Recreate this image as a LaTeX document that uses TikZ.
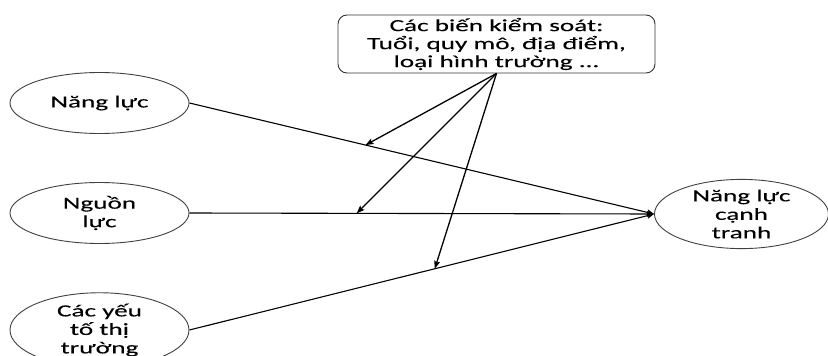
\documentclass[tikz,border=0pt]{standalone}
\usepackage{fontspec}
\setmainfont{Carlito}[FakeStretch=1.6,FakeBold=0.15]
\usetikzlibrary{shapes.geometric,arrows.meta}
\tikzset{
  oval/.style={draw=black!75, line width=0.9pt, ellipse, inner sep=0pt, align=center,
    font=\fontsize{17}{18.5}\selectfont},
  ctrlbox/.style={draw=black!80, line width=0.9pt, rounded corners=9pt, inner sep=0pt, align=center,
    minimum width=317pt, minimum height=58pt, font=\fontsize{17}{18}\selectfont},
  link/.style={draw=black, line width=1.3pt, -{Stealth[length=8pt,width=6pt,inset=1.5pt]}},
  flow/.style={draw=black, line width=1.1pt, -{Stealth[length=7pt,width=6pt,inset=1.5pt]}}
}
\begin{document}
\begin{tikzpicture}[x=1pt,y=-1pt]
\useasboundingbox (0,0) rectangle (828,356);
\node[ctrlbox] (box) at (496.5,44) {Các biến kiểm soát:\\Tuổi, quy mô, địa điểm,\\loại hình trường ...};
\node[oval, minimum width=179pt, minimum height=61pt] (n1) at (99.5,103) {Năng lực};
\node[oval, minimum width=179pt, minimum height=61pt] (n2) at (99.5,213) {Nguồn\\lực};
\node[oval, minimum width=179pt, minimum height=64pt] (n3) at (99.5,330) {Các yếu\\tố thị\\trường};
\node[oval, minimum width=174pt, minimum height=62pt] (t) at (741.5,214) {Năng lực\\cạnh\\tranh};
\draw[flow] (n1.east) -- (t.west) coordinate[pos=0.379] (m1);
\draw[flow] (n2.east) -- (t.west) coordinate[pos=0.36] (m2);
\draw[flow] (n3.east) -- (t.west) coordinate[pos=0.528] (m3);
\draw[link] (box.south) -- (m1);
\draw[link] (box.south) -- (m2);
\draw[link] (box.south) -- (m3);
\end{tikzpicture}
\end{document}
